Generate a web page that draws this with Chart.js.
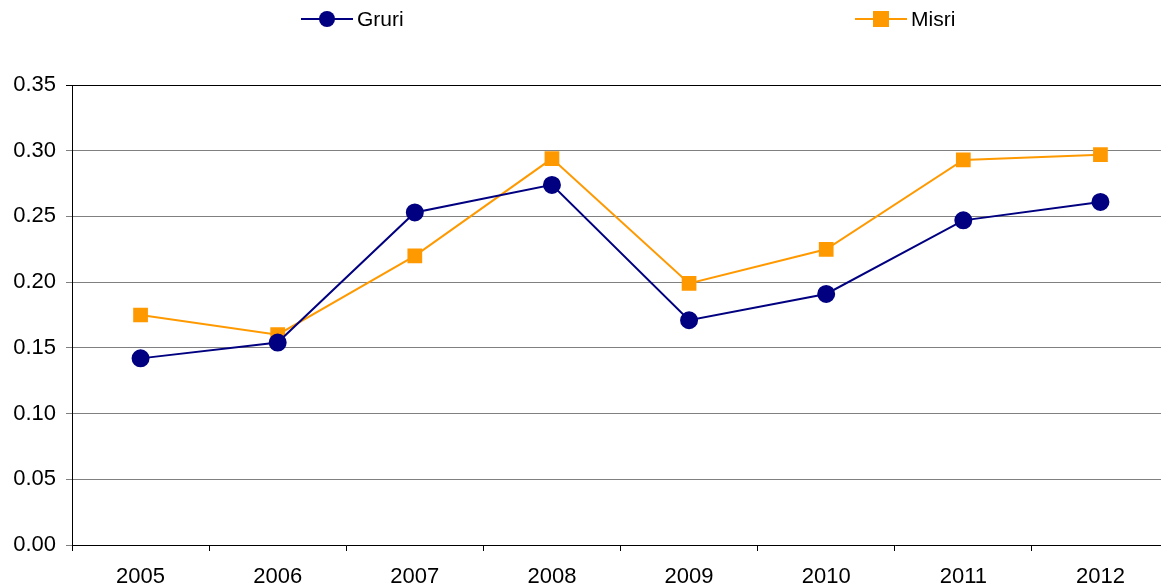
<!DOCTYPE html>
<html>
<head>
<meta charset="utf-8">
<script src="https://cdn.jsdelivr.net/npm/chart.js@4/dist/chart.umd.min.js"></script>
<style>
  html, body { margin: 0; padding: 0; background: #fff; overflow: hidden; }
</style>
</head>
<body>
<canvas id="grafica" width="1169" height="586"></canvas>
<script>
// datos
const anios = ["2005", "2006", "2007", "2008", "2009", "2010", "2011", "2012"];
const gruri = [0.142, 0.154, 0.253, 0.274, 0.171, 0.191, 0.247, 0.261];
const misri = [0.175, 0.160, 0.220, 0.294, 0.199, 0.225, 0.293, 0.297];
const ticksY = [0, 0.05, 0.10, 0.15, 0.20, 0.25, 0.30, 0.35];

const colorGruri = "#000080";
const colorMisri = "#FF9900";
const fuente = "'Liberation Sans', Arial, sans-serif";

// leyenda dibujada a mano, dos items separados como en el original
const leyendaPlugin = {
  id: "leyendaManual",
  afterDraw(chart) {
    const ctx = chart.ctx;
    const items = [
      { x: 301, ds: chart.data.datasets[0] },
      { x: 855, ds: chart.data.datasets[1] }
    ];
    const y = 19;
    ctx.save();
    items.forEach(it => {
      ctx.strokeStyle = it.ds.borderColor;
      ctx.lineWidth = 2;
      ctx.beginPath();
      ctx.moveTo(it.x, y);
      ctx.lineTo(it.x + 52, y);
      ctx.stroke();
      ctx.fillStyle = it.ds.backgroundColor;
      const cx = it.x + 26;
      if (it.ds.pointStyle === "rect") {
        ctx.fillRect(cx - 8, y - 8, 16, 16);
      } else {
        ctx.beginPath();
        ctx.arc(cx, y, 8, 0, Math.PI * 2);
        ctx.fill();
      }
      ctx.fillStyle = "#000";
      ctx.font = "21px " + fuente;
      ctx.textBaseline = "middle";
      ctx.fillText(it.ds.label, it.x + 56, y + 1);
    });
    ctx.restore();
  }
};

new Chart(document.getElementById("grafica"), {
  type: "line",
  data: {
    labels: anios,
    datasets: [
      {
        label: "Gruri",
        data: gruri,
        borderColor: colorGruri,
        backgroundColor: colorGruri,
        borderWidth: 2,
        pointStyle: "circle",
        pointRadius: 8,
        pointHoverRadius: 8,
        tension: 0
      },
      {
        label: "Misri",
        data: misri,
        borderColor: colorMisri,
        backgroundColor: colorMisri,
        borderWidth: 2,
        pointStyle: "rect",
        pointRadius: 9,
        pointHoverRadius: 9,
        tension: 0
      }
    ]
  },
  options: {
    responsive: false,
    animation: false,
    layout: { autoPadding: false, padding: { top: 85, right: 0, left: 0, bottom: 0 } },
    plugins: {
      legend: { display: false },
      tooltip: { enabled: false }
    },
    scales: {
      x: {
        type: "category",
        offset: true,
        grid: {
          offset: true,
          drawOnChartArea: false,
          drawTicks: true,
          tickLength: 6,
          color: "#000"
        },
        border: { color: "#000", width: 1 },
        ticks: {
          color: "#000",
          font: { size: 22, family: fuente },
          padding: 13,
          maxRotation: 0,
          autoSkip: false
        },
        afterFit(scale) { scale.height = 41; }
      },
      y: {
        min: 0,
        max: 0.35,
        afterBuildTicks(scale) { scale.ticks = ticksY.map(v => ({ value: v })); },
        grid: {
          color: ctx => (ctx.tick && ctx.tick.value >= 0.35 ? "#000" : "#808080"),
          lineWidth: 1,
          drawTicks: true,
          tickLength: 6
        },
        border: { color: "#000", width: 1 },
        ticks: {
          color: "#000",
          font: { size: 22, family: fuente },
          padding: 10,
          callback: v => Number(v).toFixed(2)
        },
        afterFit(scale) { scale.width = 72; }
      }
    }
  },
  plugins: [leyendaPlugin]
});
</script>
</body>
</html>
